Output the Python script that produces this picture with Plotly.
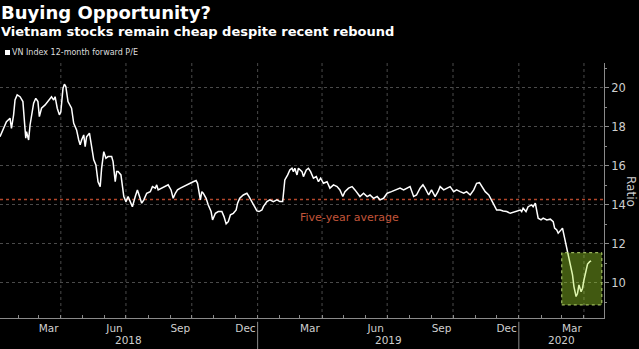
import plotly.graph_objects as go
import pandas as pd

# ---- data ----
dates = [
    "2018-01-06", "2018-01-11", "2018-01-15", "2018-01-20", "2018-01-22", "2018-01-25", "2018-01-27", "2018-01-30",
    "2018-02-03", "2018-02-07", "2018-02-09", "2018-02-11", "2018-02-12", "2018-02-15", "2018-02-17", "2018-02-19",
    "2018-02-22", "2018-02-25", "2018-02-28", "2018-03-02", "2018-03-05", "2018-03-10", "2018-03-15", "2018-03-19",
    "2018-03-22", "2018-03-24", "2018-03-27", "2018-03-30", "2018-04-01", "2018-04-04", "2018-04-06", "2018-04-08",
    "2018-04-11", "2018-04-14", "2018-04-16", "2018-04-19", "2018-04-21", "2018-04-23", "2018-04-26", "2018-04-28",
    "2018-04-30", "2018-05-03", "2018-05-05", "2018-05-07", "2018-05-11", "2018-05-14", "2018-05-17", "2018-05-20",
    "2018-05-23", "2018-05-26", "2018-05-28", "2018-05-31", "2018-06-03", "2018-06-06", "2018-06-11", "2018-06-13",
    "2018-06-16", "2018-06-18", "2018-06-20", "2018-06-24", "2018-06-26", "2018-06-28", "2018-07-01", "2018-07-04",
    "2018-07-07", "2018-07-10", "2018-07-14", "2018-07-17", "2018-07-20", "2018-07-23", "2018-07-26", "2018-07-30",
    "2018-08-04", "2018-08-07", "2018-08-11", "2018-08-13", "2018-08-15", "2018-08-20", "2018-08-25", "2018-08-29",
    "2018-09-02", "2018-09-05", "2018-09-08", "2018-09-11", "2018-09-15", "2018-09-19", "2018-09-24", "2018-09-29",
    "2018-10-03", "2018-10-07", "2018-10-09", "2018-10-13", "2018-10-15", "2018-10-17", "2018-10-21", "2018-10-24",
    "2018-10-28", "2018-10-30", "2018-11-03", "2018-11-07", "2018-11-12", "2018-11-15", "2018-11-18", "2018-11-21",
    "2018-11-24", "2018-11-28", "2018-12-02", "2018-12-04", "2018-12-07", "2018-12-12", "2018-12-17", "2018-12-20",
    "2018-12-24", "2018-12-27", "2018-12-31", "2019-01-03", "2019-01-07", "2019-01-09", "2019-01-14", "2019-01-18",
    "2019-01-23", "2019-01-28", "2019-02-01", "2019-02-05", "2019-02-08", "2019-02-12", "2019-02-15", "2019-02-18",
    "2019-02-20", "2019-02-22", "2019-02-25", "2019-02-27", "2019-03-04", "2019-03-06", "2019-03-10", "2019-03-13",
    "2019-03-16", "2019-03-20", "2019-03-24", "2019-03-27", "2019-03-30", "2019-04-03", "2019-04-08", "2019-04-12",
    "2019-04-17", "2019-04-22", "2019-04-26", "2019-04-30", "2019-05-03", "2019-05-08", "2019-05-13", "2019-05-17",
    "2019-05-20", "2019-05-24", "2019-05-29", "2019-06-03", "2019-06-07", "2019-06-12", "2019-06-17", "2019-06-21",
    "2019-06-26", "2019-07-01", "2019-07-07", "2019-07-14", "2019-07-19", "2019-07-24", "2019-07-28", "2019-08-02",
    "2019-08-07", "2019-08-11", "2019-08-16", "2019-08-20", "2019-08-23", "2019-08-28", "2019-09-01", "2019-09-06",
    "2019-09-10", "2019-09-13", "2019-09-18", "2019-09-22", "2019-09-27", "2019-10-02", "2019-10-06", "2019-10-11",
    "2019-10-16", "2019-10-20", "2019-10-25", "2019-10-30", "2019-11-03", "2019-11-07", "2019-11-10", "2019-11-15",
    "2019-11-20", "2019-11-23", "2019-11-26", "2019-12-01", "2019-12-06", "2019-12-10", "2019-12-15", "2019-12-20",
    "2019-12-24", "2019-12-29", "2020-01-03", "2020-01-05", "2020-01-07", "2020-01-11", "2020-01-14", "2020-01-19",
    "2020-01-21", "2020-01-24", "2020-01-26", "2020-01-28", "2020-02-01", "2020-02-04", "2020-02-09", "2020-02-14",
    "2020-02-18", "2020-02-20", "2020-02-23", "2020-02-25", "2020-02-29", "2020-03-02", "2020-03-04", "2020-03-07",
    "2020-03-09", "2020-03-12", "2020-03-14", "2020-03-16", "2020-03-18", "2020-03-21", "2020-03-23", "2020-03-25",
    "2020-03-28", "2020-03-30", "2020-04-01", "2020-04-04", "2020-04-06", "2020-04-09", "2020-04-11",
]
pe_ratio = [
    17.50, 17.93, 18.27, 18.45, 17.93, 18.62, 19.38, 19.64,
    19.55, 19.30, 18.10, 17.42, 17.76, 17.33, 18.10, 18.62,
    19.22, 19.47, 19.30, 18.53, 18.96, 19.13, 19.38, 19.55,
    19.38, 19.55, 18.96, 18.62, 18.78, 19.98, 20.19, 20.07,
    19.30, 19.04, 18.96, 18.19, 18.02, 17.85, 17.33, 17.08,
    17.33, 17.59, 16.99, 17.50, 17.68, 17.08, 16.31, 16.05,
    15.19, 14.94, 15.88, 16.73, 16.39, 16.48, 16.48, 16.22,
    15.19, 15.71, 15.71, 15.54, 14.94, 14.43, 14.17, 14.43,
    14.17, 13.91, 14.43, 14.77, 14.43, 14.09, 14.26, 14.60,
    14.68, 14.94, 14.86, 15.03, 14.77, 14.86, 14.94, 15.03,
    14.77, 14.34, 14.60, 14.77, 14.86, 14.94, 15.03, 15.11,
    15.19, 15.25, 15.11, 14.26, 14.68, 14.60, 14.34, 14.00,
    13.66, 13.23, 13.57, 13.66, 13.66, 13.40, 13.03, 13.14,
    13.49, 13.57, 13.74, 14.09, 14.34, 14.51, 14.60, 14.43,
    14.17, 13.91, 13.69, 13.66, 13.74, 13.91, 14.17, 14.26,
    14.17, 14.26, 14.17, 14.17, 15.28, 15.54, 15.79, 15.88,
    15.71, 15.88, 15.54, 15.88, 15.71, 15.45, 15.79, 15.88,
    15.71, 15.37, 15.45, 15.19, 15.37, 15.11, 15.19, 14.86,
    15.03, 14.94, 14.77, 14.43, 14.68, 14.86, 14.94, 14.77,
    14.60, 14.43, 14.60, 14.43, 14.51, 14.34, 14.43, 14.26,
    14.34, 14.60, 14.68, 14.77, 14.86, 14.77, 14.86, 14.94,
    14.43, 14.51, 14.86, 15.03, 14.86, 14.51, 14.77, 14.43,
    14.68, 14.94, 14.77, 14.86, 14.94, 14.68, 14.77, 14.68,
    14.60, 14.68, 14.51, 14.77, 15.11, 15.14, 14.94, 14.68,
    14.51, 14.26, 14.09, 13.74, 13.74, 13.69, 13.66, 13.57,
    13.61, 13.66, 13.74, 13.66, 13.83, 13.66, 13.91, 14.00,
    13.91, 14.09, 13.57, 13.32, 13.23, 13.32, 13.23, 13.27,
    13.14, 12.81, 12.72, 12.55, 12.72, 12.81, 12.46, 11.95,
    11.44, 10.92, 10.75, 10.41, 9.81, 9.30, 9.47, 9.90,
    9.55, 9.73, 10.15, 10.67, 10.97, 11.09, 11.13,
]
five_year_average = 14.28
five_year_label = "Five-year average"
highlight_dates = ["2020-03-01", "2020-04-26"]
highlight_values = [8.87, 11.55]

month_tick_dates = ["2018-03-15", "2018-06-15", "2018-09-15", "2018-12-15",
                    "2019-03-15", "2019-06-15", "2019-09-15", "2019-12-15", "2020-03-15"]
month_tick_labels = ["Mar", "Jun", "Sep", "Dec", "Mar", "Jun", "Sep", "Dec", "Mar"]
year_labels = ["2018", "2019", "2020"]
year_starts = ["2019-01-01", "2020-01-01"]
y_ticks = [10, 12, 14, 16, 18, 20]

x_range = ["2018-01-06", "2020-04-29"]
y_range = [8.2, 21.28]

FONT = "DejaVu Sans"
GRID = "#4a4a4a"
AXIS = "#8a8a8a"
TICKTXT = "#cfcfcf"

fig = go.Figure()
fig.add_trace(go.Scatter(
    x=pd.to_datetime(dates), y=pe_ratio, mode="lines",
    line=dict(color="#ffffff", width=1.5), showlegend=False, hoverinfo="skip",
))

shapes = []
# vertical quarterly grid lines
for d in pd.date_range("2018-04-01", "2020-04-01", freq="QS"):
    shapes.append(dict(type="line", xref="x", yref="paper", x0=d, x1=d, y0=0, y1=1,
                       line=dict(color=GRID, width=1, dash="dot"), layer="below"))
# five-year average
shapes.append(dict(type="line", xref="paper", yref="y", x0=0, x1=1,
                   y0=five_year_average, y1=five_year_average,
                   line=dict(color="#b4472c", width=1.6, dash="dot"), layer="below"))
# year separators below the axis
for d in year_starts:
    shapes.append(dict(type="line", xref="x", yref="paper", x0=d, x1=d, y0=-0.015, y1=-0.125,
                       line=dict(color=AXIS, width=1)))
# highlight box
shapes.append(dict(type="rect", xref="x", yref="y",
                   x0=highlight_dates[0], x1=highlight_dates[1],
                   y0=highlight_values[0], y1=highlight_values[1],
                   fillcolor="rgb(170,235,45)", opacity=0.38, line=dict(width=0), layer="above"))
shapes.append(dict(type="rect", xref="x", yref="y",
                   x0=highlight_dates[0], x1=highlight_dates[1],
                   y0=highlight_values[0], y1=highlight_values[1],
                   fillcolor="rgba(0,0,0,0)", line=dict(color="#b9d873", width=1, dash="dot"),
                   layer="above"))
# legend square
shapes.append(dict(type="rect", xref="paper", yref="paper", x0=5 / 604, x1=10 / 604,
                   y0=(318 - 55) / 255, y1=(318 - 50) / 255,
                   fillcolor="#ffffff", line=dict(width=0)))

annotations = [
    dict(text="<b>Buying Opportunity?</b>", xref="paper", yref="paper", x=0, y=(318 - 12) / 255,
         xanchor="left", yanchor="middle", showarrow=False, xshift=-1,
         font=dict(family=FONT, size=18, color="#ffffff")),
    dict(text="<b>Vietnam stocks remain cheap despite recent rebound</b>", xref="paper", yref="paper",
         x=0, y=(318 - 32) / 255, xanchor="left", yanchor="middle", showarrow=False, xshift=-1,
         font=dict(family=FONT, size=13, color="#ffffff")),
    dict(text="VN Index 12-month forward P/E", xref="paper", yref="paper", x=10 / 604,
         y=(318 - 52.5) / 255, xanchor="left", yanchor="middle", showarrow=False,
         font=dict(family=FONT, size=8, color="#dddddd")),
    dict(text=five_year_label, xref="x", yref="y", x="2019-05-10", y=13.38,
         xanchor="center", yanchor="middle", showarrow=False,
         font=dict(family=FONT, size=11, color="#c2553a")),
    dict(text="Ratio", xref="paper", yref="paper", x=1, y=(318 - 191) / 255, xshift=27,
         xanchor="center", yanchor="middle", textangle=90, showarrow=False,
         font=dict(family=FONT, size=12, color=TICKTXT)),
]
# year labels centred on their visible span
x_lo, x_hi = pd.Timestamp(x_range[0]), pd.Timestamp(x_range[1])
bounds = [x_lo] + [pd.Timestamp(s) for s in year_starts] + [x_hi]
for i, lab in enumerate(year_labels):
    mid = bounds[i] + (bounds[i + 1] - bounds[i]) / 2
    annotations.append(dict(text=lab, xref="x", yref="paper", x=mid, y=(318 - 340) / 255,
                            xanchor="center", yanchor="middle", showarrow=False,
                            font=dict(family=FONT, size=10.5, color=TICKTXT)))

fig.update_layout(
    width=639, height=349,
    margin=dict(l=0, r=35, t=63, b=31),
    paper_bgcolor="#000000", plot_bgcolor="#000000",
    shapes=shapes, annotations=annotations,
    showlegend=False,
    xaxis=dict(
        type="date", range=x_range,
        tickmode="array", tickvals=month_tick_dates, ticktext=month_tick_labels,
        ticks="", showgrid=False, zeroline=False,
        showline=True, linecolor=AXIS, linewidth=1,
        tickfont=dict(family=FONT, size=10.5, color=TICKTXT),
        minor=dict(tickmode="linear", tick0="2018-01-01", dtick="M1", ticks="inside",
                   ticklen=3, tickcolor=AXIS, showgrid=False),
    ),
    yaxis=dict(
        side="right", range=y_range,
        tickmode="array", tickvals=y_ticks,
        ticks="outside", ticklen=4, tickcolor=AXIS,
        showgrid=True, gridcolor=GRID, griddash="dot", gridwidth=1,
        zeroline=False, showline=True, linecolor=AXIS, linewidth=1,
        tickfont=dict(family=FONT, size=11.5, color=TICKTXT),
        minor=dict(tickmode="linear", tick0=9, dtick=2, ticks="outside", ticklen=2,
                   tickcolor=AXIS, showgrid=False),
    ),
)

fig.write_html("out.html")
